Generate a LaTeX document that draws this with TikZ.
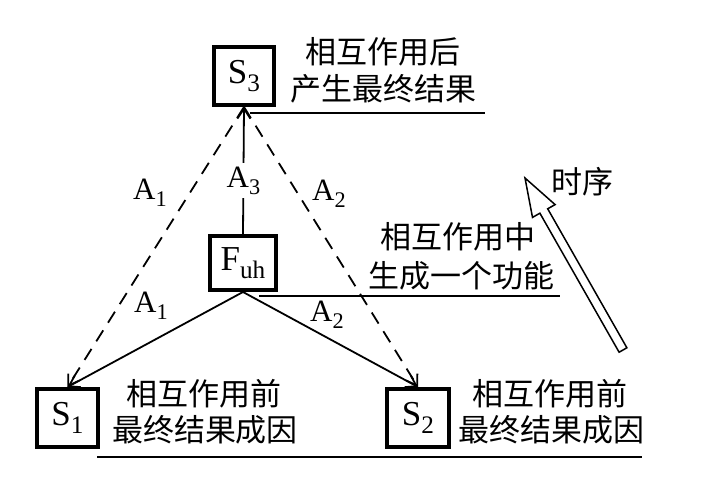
\documentclass[tikz,border=0pt]{standalone}
\usepackage{fontspec}
\setmainfont{Liberation Serif}
\newfontfamily\cjk{Noto Sans CJK SC}
\usetikzlibrary{arrows.meta}
\newcommand{\mysub}[1]{\raisebox{-0.22em}{\fontsize{0.72em}{0.72em}\selectfont #1}}
\begin{document}
\begin{tikzpicture}[x=1pt,y=-1pt,
  box/.style={draw, line width=4pt, inner sep=0pt, font=\fontsize{35}{35}\selectfont},
  cjktext/.style={font=\cjk\fontsize{31}{34}\selectfont, inner sep=0pt},
  alab/.style={font=\fontsize{31}{31}\selectfont, inner sep=1pt},
  conn/.style={line width=1.8pt, -{Straight Barb[length=10pt,width=13pt,line width=1.8pt]}},
  dconn/.style={conn, dash pattern=on 13pt off 9pt},
  uline/.style={line width=1.8pt}]
\useasboundingbox (0,0) rectangle (716,484);
% boxes
\node[box, minimum width=60pt, minimum height=58pt] (S3) at (244,76) {S\mysub{3}};
\node[box, minimum width=66pt, minimum height=54pt] (F) at (243,263) {F\mysub{uh}};
\node[box, minimum width=61pt, minimum height=58pt] (S1) at (67.5,418) {S\mysub{1}};
\node[box, minimum width=62pt, minimum height=58pt] (S2) at (418,418) {S\mysub{2}};
% texts
\node[cjktext] (t1) at (383,52) {相互作用后};
\node[cjktext] (t2) at (383,89) {产生最终结果};
\node[cjktext] (t3) at (458,237) {相互作用中};
\node[cjktext] (t4) at (461,276) {生成一个功能};
\node[cjktext] (t5) at (204,394) {相互作用前};
\node[cjktext] (t6) at (205,430) {最终结果成因};
\node[cjktext] (t7) at (550,394) {相互作用前};
\node[cjktext] (t8) at (551,430) {最终结果成因};
\node[cjktext] (t9) at (582,182) {时序};
% underlines
\coordinate (u1a) at (250,113); \coordinate (u1b) at (485,113);
\coordinate (u2a) at (259,296); \coordinate (u2b) at (560,296);
\coordinate (u3a) at (97,457);  \coordinate (u3b) at (642,457);
\draw[uline] (u1a) -- (u1b);
\draw[uline] (u2a) -- (u2b);
\draw[uline] (u3a) -- (u3b);
% connectors
\draw[conn] (F.north) -- node[pos=0.42, fill=white, alab, inner sep=4pt] (a3) {A\mysub{3}} (S3.south);
\draw[dconn] (S3.south) -- (S1.north);
\draw[dconn] (S3.south) -- (S2.north);
\draw[conn] (F.south) -- (S1.north);
\draw[conn] (F.south) -- (S2.north);
% labels
\node[alab] (a1d) at (150,193) {A\mysub{1}};
\node[alab] (a2d) at (329,194) {A\mysub{2}};
\node[alab] (a1s) at (151,306) {A\mysub{1}};
\node[alab] (a2s) at (327,315) {A\mysub{2}};
% hollow time arrow
\draw[line width=1.5pt, line join=miter]
  (626.9,347.8) -- (547.7,208.8) -- (555.1,204.6) -- (525,178)
  -- (532.5,217.4) -- (539.9,213.2) -- (619.1,352.2) -- cycle;
\end{tikzpicture}
\end{document}
